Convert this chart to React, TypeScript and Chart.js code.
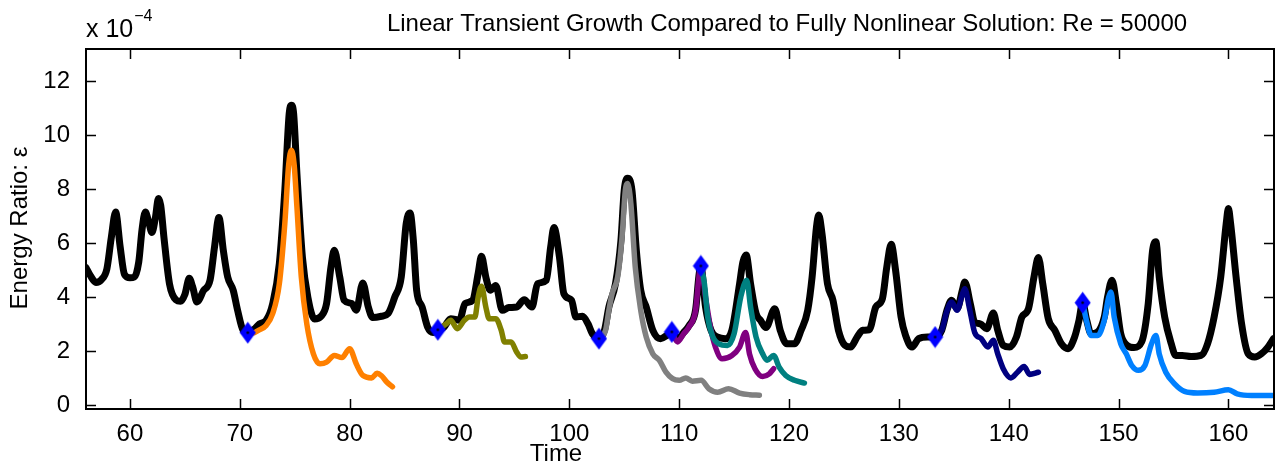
import React, { useEffect, useRef } from "react";
import { Chart, registerables } from "chart.js";

Chart.register(...registerables);

const FONT = '"Liberation Sans", Arial, Helvetica, sans-serif';

const titleText = "Linear Transient Growth Compared to Fully Nonlinear Solution: Re = 50000";
const xLabel = "Time";
const yLabel = "Energy Ratio: \u03B5";
const scaleBase = "x 10";
const scaleExp = "\u22124";

const xTickValues = [60, 70, 80, 90, 100, 110, 120, 130, 140, 150, 160];
const yTickValues = [0, 2, 4, 6, 8, 10, 12];

// Fully nonlinear solution (black)
const blackT = [
  56.0, 56.4, 56.9, 57.4, 57.9, 58.3, 58.7, 59.1, 59.5, 60.0, 60.4, 60.8, 61.1, 61.4, 61.7, 62.0, 62.3, 62.6, 62.8,
  63.1, 63.6, 64.2, 64.6, 65.0, 65.4, 65.7, 66.1, 66.7, 67.3, 67.7, 68.1, 68.5, 68.9, 69.4, 69.8, 70.3, 70.73,
  71.36, 71.8, 72.4, 73.0, 73.6, 74.1, 74.5, 74.7, 74.9, 75.2, 75.7, 76.2, 76.8, 77.4, 77.9, 78.3, 78.6, 79.1,
  79.5, 80.2, 80.6, 81.2, 81.7, 82.1, 82.9, 83.5, 84.1, 84.7, 85.15, 85.5, 85.8, 86.1, 86.6, 87.1, 87.6, 88.03,
  88.6, 89.2, 90.0, 90.5, 91.2, 91.7, 92.0, 92.4, 92.8, 93.3, 93.9, 94.5, 95.2, 95.9, 96.6, 97.1, 97.9, 98.3,
  98.6, 99.1, 99.5, 100.2, 100.6, 101.2, 101.7, 102.1, 102.7, 103.2, 103.6, 104.2, 104.7, 105.0, 105.3, 105.7,
  106.1, 106.5, 107.0, 107.6, 108.3, 108.9, 109.33, 109.85, 110.4, 110.9, 111.5, 111.8, 111.97, 112.4, 112.9,
  113.5, 114.2, 114.8, 115.5, 115.8, 116.1, 116.5, 117.0, 117.4, 117.9, 118.7, 119.2, 119.8, 120.5, 121.1,
  121.7, 122.1, 122.5, 122.7, 123.0, 123.5, 124.0, 124.5, 125.1, 125.6, 126.2, 126.7, 127.3, 127.9, 128.5,
  128.9, 129.3, 129.7, 130.2, 130.6, 131.2, 131.8, 132.6, 133.3, 133.9, 134.4, 134.8, 135.3, 135.8, 136.0,
  136.5, 136.9, 137.4, 138.0, 138.6, 139.0, 139.5, 140.1, 140.7, 141.2, 141.8, 142.3, 142.7, 143.1, 143.6,
  144.2, 144.8, 145.4, 146.0, 146.4, 146.73, 147.1, 147.5, 148.1, 148.7, 149.0, 149.4, 149.8, 150.2, 150.8,
  151.4, 152.1, 152.7, 153.1, 153.4, 153.7, 154.2, 154.8, 155.2, 155.8, 156.6, 157.5, 158.1, 158.7, 159.3,
  159.8, 160.0, 160.2, 160.7, 161.2, 161.8, 162.4, 163.0, 163.6, 164.1,
];
const blackE = [
  5.1, 4.8, 4.55, 4.65, 5.05, 6.2, 7.15, 5.9, 4.85, 4.72, 4.75, 5.3, 6.5, 7.15, 6.8, 6.4, 6.9, 7.65, 7.4,
  6.2, 4.5, 3.9, 3.85, 4.1, 4.7, 4.4, 3.83, 4.25, 4.65, 5.86, 6.95, 5.74, 4.75, 4.26, 3.52, 2.78, 2.69,
  2.84, 3.02, 3.15, 3.77, 5.25, 7.96, 10.8, 11.1, 10.8, 8.58, 5.49, 4.0, 3.2, 3.3, 3.77, 5.12, 5.74, 4.75,
  3.89, 3.77, 3.52, 4.53, 3.64, 3.25, 3.3, 3.4, 4.0, 4.75, 6.73, 7.12, 6.11, 4.26, 3.64, 2.9, 2.7, 2.8,
  2.9, 3.21, 3.15, 3.77, 3.89, 4.88, 5.52, 4.75, 4.26, 4.44, 3.52, 3.62, 3.64, 3.91, 3.64, 4.5, 4.63, 5.86,
  6.58, 5.49, 4.14, 3.89, 3.27, 3.3, 3.02, 2.65, 2.47, 2.78, 3.64, 4.5, 6.11, 7.96, 8.4, 7.96,
  5.74, 4.26, 3.64, 2.78, 2.47, 2.6, 2.72, 2.45, 2.7, 2.95, 3.55, 4.8, 5.16, 3.64, 2.78,
  2.53, 2.47, 2.78, 4.5, 5.3, 5.56, 4.5, 3.4, 3.15, 2.88, 3.58, 2.78, 2.28, 2.28, 2.78,
  3.52, 4.75, 6.6, 7.04, 6.36, 4.5, 3.89, 2.78, 2.22, 2.16, 2.53, 2.78, 2.8, 3.64, 3.95,
  5.12, 5.96, 5.0, 3.27, 2.6, 2.16, 2.47, 2.53, 2.53, 2.78, 3.55, 3.89, 3.58, 4.3, 4.57,
  3.77, 3.09, 3.02, 2.84, 3.42, 2.78, 2.22, 2.16, 2.53, 3.27, 3.58, 4.75, 5.47, 4.5, 3.21,
  2.78, 2.28, 2.1, 2.53, 3.15, 3.8, 3.15, 2.65, 2.72, 3.27, 4.01, 4.63, 3.77, 2.65, 2.22,
  2.14, 2.35, 3.77, 5.74, 6.05, 4.75, 3.27, 2.28, 1.85, 1.85, 1.81, 1.85, 2.28, 3.27, 4.75,
  6.73, 7.28, 6.73, 4.75, 3.02, 1.91, 1.79, 1.91, 2.16, 2.47,
];

// Linear transient growth runs
const orangeT = [70.73, 71.2, 71.7, 72.4, 73.0, 73.6, 74.1, 74.45, 74.7, 74.95, 75.2, 75.6, 76.1, 76.7, 77.3, 77.9, 78.6, 79.3, 80.0, 80.6, 81.2, 82.0, 82.5, 82.9, 83.4, 83.9];
const orangeE = [2.69, 2.68, 2.78, 2.96, 3.4, 4.5, 6.73, 8.9, 9.44, 8.9, 7.35, 4.75, 3.02, 1.91, 1.54, 1.6, 1.85, 1.77, 2.1, 1.54, 1.11, 1.02, 1.19, 1.1, 0.86, 0.69];

const oliveT = [88.03, 88.8, 89.2, 89.8, 90.45, 90.9, 91.4, 91.7, 92.0, 92.4, 92.7, 93.3, 93.8, 94.1, 94.7, 95.2, 95.6, 96.0];
const oliveE = [2.8, 3.02, 3.15, 2.84, 3.15, 3.27, 3.27, 4.0, 4.41, 3.64, 3.21, 3.21, 2.78, 2.35, 2.35, 1.98, 1.79, 1.81];

const grayT = [102.7, 103.3, 103.6, 103.9, 104.4, 104.8, 105.1, 105.3, 105.6, 106.0, 106.5, 107.0, 107.6, 108.2, 108.8, 109.4, 110.0, 110.6, 111.2, 112.0, 112.7, 113.5, 114.5, 115.5, 116.4, 117.3];
const grayE = [2.47, 2.78, 3.52, 4.14, 4.75, 6.23, 7.96, 8.21, 7.47, 5.12, 3.52, 2.53, 1.91, 1.67, 1.23, 0.99, 0.93, 1.02, 0.9, 0.93, 0.62, 0.49, 0.62, 0.46, 0.4, 0.38];

const purpleT = [109.33, 109.85, 110.4, 110.9, 111.5, 111.8, 111.97, 112.4, 112.9, 113.3, 113.9, 114.8, 115.5, 116.05, 116.4, 116.9, 117.6, 118.2, 118.6];
const purpleE = [2.72, 2.35, 2.65, 2.91, 3.53, 4.76, 5.16, 4.0, 2.78, 2.16, 1.73, 1.85, 2.16, 2.7, 1.91, 1.36, 1.07, 1.17, 1.36];

const tealT = [111.97, 112.3, 112.6, 113.0, 113.6, 114.4, 115.0, 115.6, 116.15, 116.5, 117.0, 117.6, 118.0, 118.6, 119.1, 119.7, 120.5, 121.4];
const tealE = [5.16, 4.5, 3.27, 2.6, 2.28, 2.22, 2.65, 4.0, 4.63, 3.64, 2.53, 1.91, 1.67, 1.85, 1.42, 1.11, 0.93, 0.83];

const navyT = [133.3, 133.9, 134.4, 134.8, 135.3, 135.8, 136.0, 136.4, 136.9, 137.5, 138.1, 138.6, 139.0, 139.5, 140.2, 140.8, 141.4, 141.9, 142.7];
const navyE = [2.53, 2.78, 3.52, 3.83, 3.52, 4.14, 4.32, 3.64, 2.7, 2.47, 2.16, 2.41, 1.91, 1.36, 1.02, 1.23, 1.44, 1.15, 1.23];

const skyT = [146.73, 147.1, 147.5, 148.1, 148.7, 149.1, 149.3, 149.6, 150.2, 150.7, 151.2, 151.8, 152.4, 153.0, 153.4, 153.7, 154.3, 155.1, 156.0, 157.2, 158.7, 160.0, 160.8, 162.1, 164.0];
const skyE = [3.8, 3.1, 2.59, 2.59, 3.15, 4.0, 4.2, 3.27, 2.28, 1.91, 1.48, 1.3, 1.48, 2.28, 2.59, 1.91, 1.23, 0.8, 0.52, 0.46, 0.49, 0.58, 0.43, 0.37, 0.37];

// Start times of the linear runs (markers)
const startT = [70.73, 88.03, 102.7, 109.33, 111.97, 133.3, 146.73];
const startE = [2.69, 2.8, 2.47, 2.72, 5.16, 2.53, 3.8];

const pts = (t: number[], e: number[]) => t.map((x, i) => ({ x, y: e[i] }));

function makeDiamond(): HTMLCanvasElement {
  const c = document.createElement("canvas");
  c.width = 17;
  c.height = 23;
  const g = c.getContext("2d")!;
  g.fillStyle = "#0000ff";
  g.beginPath();
  g.moveTo(8.5, 0.5);
  g.lineTo(16.5, 11.5);
  g.lineTo(8.5, 22.5);
  g.lineTo(0.5, 11.5);
  g.closePath();
  g.fill();
  g.fillStyle = "#000";
  g.beginPath();
  g.arc(8.5, 11.5, 1.3, 0, Math.PI * 2);
  g.fill();
  return c;
}

const framePlugin = {
  id: "matlabFrame",
  afterDraw(chart: any) {
    const { ctx, chartArea } = chart;
    const { left, right, top, bottom } = chartArea;
    const xs = chart.scales.x;
    const ys = chart.scales.y;
    ctx.save();
    ctx.strokeStyle = "#000";
    ctx.lineWidth = 1.5;
    ctx.beginPath();
    xTickValues.forEach((v) => {
      const px = Math.round(xs.getPixelForValue(v)) + 0.5;
      ctx.moveTo(px, bottom);
      ctx.lineTo(px, bottom - 10);
      ctx.moveTo(px, top);
      ctx.lineTo(px, top + 10);
    });
    yTickValues.forEach((v) => {
      const py = Math.round(ys.getPixelForValue(v)) + 0.5;
      ctx.moveTo(left, py);
      ctx.lineTo(left + 10, py);
      ctx.moveTo(right, py);
      ctx.lineTo(right - 10, py);
    });
    ctx.stroke();
    ctx.lineWidth = 2;
    ctx.strokeRect(left, top, right - left, bottom - top);

    ctx.fillStyle = "#000";
    ctx.textBaseline = "alphabetic";
    // title
    ctx.font = `24px ${FONT}`;
    ctx.textAlign = "center";
    ctx.fillText(titleText, 787, 31);
    // x label
    ctx.fillText(xLabel, 556, 461);
    // exponent label
    ctx.textAlign = "left";
    ctx.font = `25px ${FONT}`;
    ctx.fillText(scaleBase, 86, 37);
    const w = ctx.measureText(scaleBase).width;
    ctx.font = `16px ${FONT}`;
    ctx.fillText(scaleExp, 86 + w + 1, 21);
    // y label
    ctx.font = `24px ${FONT}`;
    ctx.translate(27, 228);
    ctx.rotate(-Math.PI / 2);
    ctx.textAlign = "center";
    ctx.fillText(yLabel, 0, 0);
    ctx.restore();
  },
};

export default function App() {
  const ref = useRef<HTMLCanvasElement | null>(null);
  useEffect(() => {
    if (!ref.current) return;
    const diamond = makeDiamond();
    const line = (label: string, t: number[], e: number[], color: string, width: number, order: number) => ({
      label,
      data: pts(t, e),
      borderColor: color,
      backgroundColor: color,
      borderWidth: width,
      pointRadius: 0,
      cubicInterpolationMode: "monotone" as const,
      borderCapStyle: "round" as const,
      borderJoinStyle: "round" as const,
      order,
    });
    const chart = new Chart(ref.current, {
      type: "line",
      data: {
        datasets: [
          {
            label: "Start",
            data: pts(startT, startE),
            showLine: false,
            pointStyle: diamond as any,
            pointRadius: 8,
            borderColor: "#0000ff",
            backgroundColor: "#0000ff",
            order: 0,
          } as any,
          line("Run 1", orangeT, orangeE, "#ff8000", 5.5, 5),
          line("Run 2", oliveT, oliveE, "#808000", 5.5, 5),
          line("Run 3", grayT, grayE, "#808080", 5.5, 5),
          line("Run 4", purpleT, purpleE, "#800080", 5.5, 5),
          line("Run 5", tealT, tealE, "#008080", 5.5, 4),
          line("Run 6", navyT, navyE, "#000080", 5.5, 5),
          line("Run 7", skyT, skyE, "#0080ff", 5.5, 5),
          line("Nonlinear", blackT, blackE, "#000000", 7, 10),
        ],
      },
      options: {
        animation: false,
        responsive: false,
        devicePixelRatio: 1,
        parsing: false as any,
        normalized: true,
        layout: { padding: { left: 0, right: 7, top: 49, bottom: 0 } },
        plugins: {
          legend: { display: false },
          title: { display: false },
          tooltip: { enabled: false },
        },
        events: [],
        scales: {
          x: {
            type: "linear",
            min: 56,
            max: 164.15,
            grid: { display: false },
            border: { display: false },
            afterBuildTicks: (s: any) => {
              s.ticks = xTickValues.map((v) => ({ value: v }));
            },
            afterFit: (s: any) => {
              s.height = 64;
            },
            ticks: {
              color: "#000",
              font: { family: FONT, size: 24 },
              padding: 3,
              maxRotation: 0,
              autoSkip: false,
              callback: (v: any) => String(v),
            },
          },
          y: {
            type: "linear",
            min: -0.13,
            max: 13.18,
            grid: { display: false },
            border: { display: false },
            afterBuildTicks: (s: any) => {
              s.ticks = yTickValues.map((v) => ({ value: v }));
            },
            afterFit: (s: any) => {
              s.width = 86;
            },
            ticks: {
              color: "#000",
              font: { family: FONT, size: 24 },
              padding: 8,
              autoSkip: false,
              callback: (v: any) => String(v),
            },
          },
        },
      },
      plugins: [framePlugin],
    });
    return () => chart.destroy();
  }, []);

  return (
    <div style={{ position: "fixed", left: 0, top: 0, width: 1283, height: 473, background: "#fff" }}>
      <canvas ref={ref} width={1283} height={473} style={{ display: "block", width: 1283, height: 473 }} />
    </div>
  );
}
